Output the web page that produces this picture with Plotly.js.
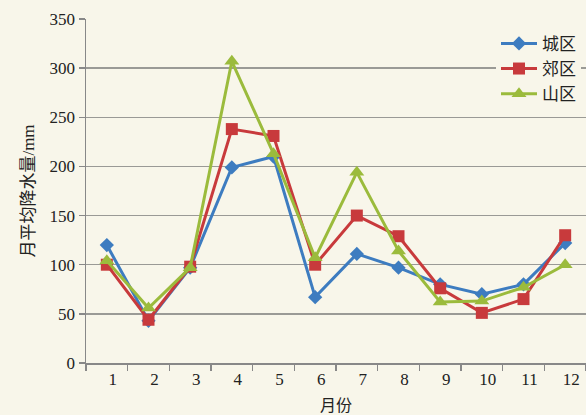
<!DOCTYPE html>
<html><head><meta charset="utf-8">
<script src="https://cdn.plot.ly/plotly-3.0.1.min.js"></script>
<style>html,body{margin:0;padding:0;background:#f8f6ea;}</style>
</head><body>
<div id="chart" style="width:586px;height:415px;"></div>
<script>
const months = ["1","2","3","4","5","6","7","8","9","10","11","12"];
const cityName = "城区";
const suburbName = "郊区";
const mountainName = "山区";
const cityValues = [120, 43, 97, 199, 210, 67, 111, 97, 80, 70, 80, 122];
const suburbValues = [100, 44, 98, 238, 231, 100, 150, 129, 76, 51, 65, 130];
const mountainValues = [104, 56, 97, 307, 213, 107, 194, 114, 62, 63, 77, 100];
const yTitle = "月平均降水量/mm";
const xTitle = "月份";

const bg = "#f8f6ea";
const fontFam = "Liberation Serif, Noto Sans CJK SC, serif";

const traces = [
  {x: months, y: cityValues, name: cityName, type: "scatter", mode: "lines+markers",
   line: {color: "#3d7cc0", width: 3}, marker: {symbol: "diamond", size: 11, color: "#3d7cc0"}},
  {x: months, y: suburbValues, name: suburbName, type: "scatter", mode: "lines+markers",
   line: {color: "#c83a3c", width: 3}, marker: {symbol: "square", size: 12, color: "#c83a3c"}},
  {x: months, y: mountainValues, name: mountainName, type: "scatter", mode: "lines+markers",
   line: {color: "#9bbb3c", width: 3}, marker: {symbol: "triangle-up", size: 13, color: "#9bbb3c"}}
];

const layout = {
  width: 586, height: 415,
  paper_bgcolor: bg, plot_bgcolor: bg,
  margin: {l: 86, r: 0, t: 19, b: 52},
  font: {family: fontFam, color: "#222", size: 16},
  showlegend: true,
  legend: {x: 0.82, y: 0.98, xanchor: "left", yanchor: "top", bgcolor: bg,
           font: {size: 17, family: fontFam}, itemwidth: 36, tracegroupgap: 0},
  xaxis: {
    type: "category", range: [-0.5, 11.5], tickson: "boundaries",
    ticks: "outside", ticklen: 6, tickcolor: "#888", tickwidth: 1.5,
    showline: true, linecolor: "#888", linewidth: 1.5, showgrid: false, zeroline: false,
    tickfont: {size: 17, family: fontFam}, ticklabelshift: 6,
    title: {text: xTitle, font: {size: 16, family: fontFam}, standoff: 12}
  },
  yaxis: {
    range: [0, 350], tickvals: [0, 50, 100, 150, 200, 250, 300, 350],
    ticks: "outside", ticklen: 6, tickcolor: "#888", tickwidth: 1.5,
    showline: true, linecolor: "#888", linewidth: 1.5,
    showgrid: true, gridcolor: "#9a9a96", gridwidth: 1.5, zeroline: false,
    tickfont: {size: 17, family: fontFam},
    title: {text: yTitle, font: {size: 17, family: fontFam}, standoff: 10}
  }
};

Plotly.newPlot("chart", traces, layout, {displayModeBar: false, staticPlot: true});
</script>
</body></html>
